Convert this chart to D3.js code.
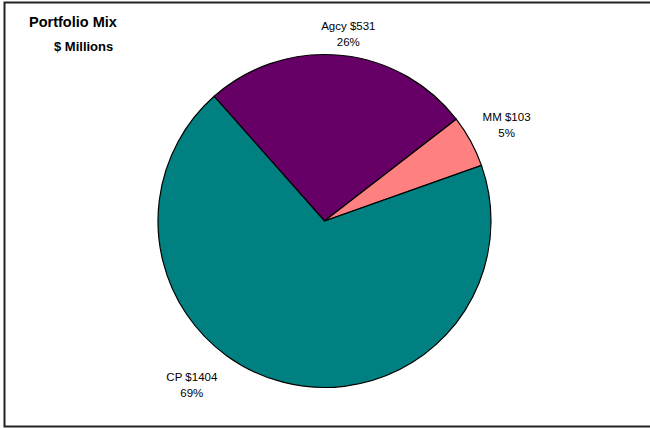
<!DOCTYPE html>
<head>
    <script src="https://d3js.org/d3.v7.min.js"></script>
    <style>
        body { margin: 0; background: #fff; }
        text { font-family: "Liberation Sans", Arial, sans-serif; fill: #000; }
    </style>
</head>
<body>
    <svg></svg>
</body>

<script>
    // Data
    var categories = ["Agcy", "MM", "CP"];
    var amounts = [531, 103, 1404];
    var colors = ["#660066", "#FF8080", "#008080"];

    // Variables
    var width = 650;
    var height = 428;
    var cx = 324.5, cy = 221, radius = 166.5;
    var startAngle = -41.5 * Math.PI / 180;

    // label placement (polar, degrees from 12 o'clock)
    var labelPlace = { "Agcy": [190, 7.2], "MM": [207, 61.6], "CP": [209, 219.4] };

    var svg = d3.select('svg')
        .attr('width', width)
        .attr('height', height);

    // Chart frame (right side runs off the page)
    svg.append('rect')
        .attr('x', 4.5).attr('y', 2.5)
        .attr('width', 700).attr('height', 424)
        .style('fill', 'none')
        .style('stroke', '#222')
        .style('stroke-width', 2);

    // Titles
    svg.append('text')
        .attr('x', 29).attr('y', 27)
        .style('font-size', '14.5px').style('font-weight', 'bold')
        .text('Portfolio Mix');
    svg.append('text')
        .attr('x', 54).attr('y', 51)
        .style('font-size', '13px').style('font-weight', 'bold')
        .text('$ Millions');

    var data = categories.map(function (c, i) { return { name: c, value: amounts[i], color: colors[i] }; });
    var total = d3.sum(amounts);

    var pie = d3.pie()
        .sort(null)
        .value(function (d) { return d.value; })
        .startAngle(startAngle)
        .endAngle(startAngle + 2 * Math.PI);

    var arc = d3.arc()
        .innerRadius(0)
        .outerRadius(radius);

    var g = svg.append('g')
        .attr('transform', 'translate(' + cx + ',' + cy + ')');

    g.selectAll('path')
        .data(pie(data))
        .enter().append('path')
        .attr('d', arc)
        .style('fill', function (d) { return d.data.color; })
        .style('stroke', '#000')
        .style('stroke-width', 1.2);

    // Labels
    var fmt = d3.format('.0%');
    var lab = g.selectAll('g.lab')
        .data(pie(data))
        .enter().append('g')
        .attr('class', 'lab')
        .attr('transform', function (d) {
            var p = labelPlace[d.data.name];
            var a = p[1] * Math.PI / 180;
            return 'translate(' + (p[0] * Math.sin(a)) + ',' + (-p[0] * Math.cos(a)) + ')';
        });

    lab.append('text')
        .attr('text-anchor', 'middle')
        .attr('y', -2)
        .style('font-size', '11.5px')
        .text(function (d) { return d.data.name + ' $' + d.data.value; });
    lab.append('text')
        .attr('text-anchor', 'middle')
        .attr('y', 14)
        .style('font-size', '11.5px')
        .text(function (d) { return fmt(d.data.value / total); });
</script>
